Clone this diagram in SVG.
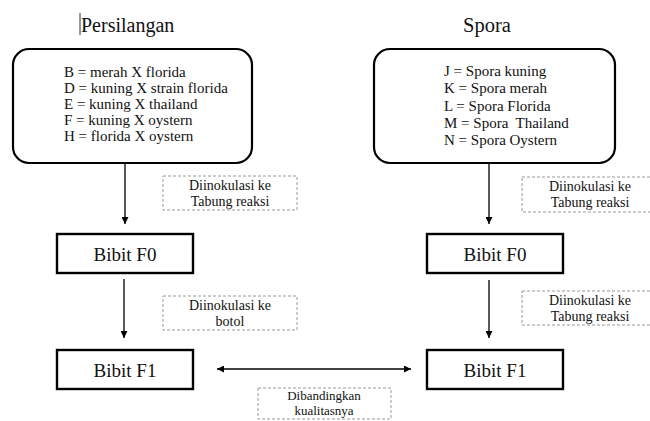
<svg xmlns="http://www.w3.org/2000/svg" width="650" height="421" viewBox="0 0 650 421" font-family="Liberation Serif, serif">
<defs>
<marker id="ah" viewBox="0 0 10 10" refX="10" refY="5" markerWidth="7" markerHeight="7" markerUnits="userSpaceOnUse" orient="auto-start-reverse">
<path d="M0,0 L10,5 L0,10 z" fill="#000"/>
</marker>
</defs>
<g id="title-persilangan">
<line x1="80" y1="13" x2="80" y2="35" stroke="#333" stroke-width="1"/>
<text font-family="Liberation Serif, serif" style="font-family:'Liberation Serif',serif;font-size:20px;fill:#111" x="81" y="32">Persilangan</text>
</g>
<g id="title-spora">
<text font-family="Liberation Serif, serif" style="font-family:'Liberation Serif',serif;font-size:20.5px;fill:#111" x="463" y="32">Spora</text>
</g>
<g id="node-persilangan">
<rect fill="#fff" stroke="#000" stroke-width="2.2" x="13" y="49" width="239" height="114" rx="16"/>
<text font-family="Liberation Serif, serif" style="font-family:'Liberation Serif',serif;font-size:15px;fill:#111" x="64" y="77">B = merah X florida</text>
<text font-family="Liberation Serif, serif" style="font-family:'Liberation Serif',serif;font-size:15px;fill:#111" x="64" y="93">D = kuning X strain florida</text>
<text font-family="Liberation Serif, serif" style="font-family:'Liberation Serif',serif;font-size:15px;fill:#111" x="64" y="109">E = kuning X thailand</text>
<text font-family="Liberation Serif, serif" style="font-family:'Liberation Serif',serif;font-size:15px;fill:#111" x="64" y="125">F = kuning X oystern</text>
<text font-family="Liberation Serif, serif" style="font-family:'Liberation Serif',serif;font-size:15px;fill:#111" x="64" y="141">H = florida X oystern</text>
</g>
<g id="node-spora">
<rect fill="#fff" stroke="#000" stroke-width="2.2" x="374" y="49" width="241" height="114" rx="16"/>
<text font-family="Liberation Serif, serif" style="font-family:'Liberation Serif',serif;font-size:15px;fill:#111" x="444" y="76">J = Spora kuning</text>
<text font-family="Liberation Serif, serif" style="font-family:'Liberation Serif',serif;font-size:15px;fill:#111" x="444" y="93">K = Spora merah</text>
<text font-family="Liberation Serif, serif" style="font-family:'Liberation Serif',serif;font-size:15px;fill:#111" x="444" y="111">L = Spora Florida</text>
<text font-family="Liberation Serif, serif" style="font-family:'Liberation Serif',serif;font-size:15px;fill:#111;white-space:pre" x="444" y="128">M = Spora  Thailand</text>
<text font-family="Liberation Serif, serif" style="font-family:'Liberation Serif',serif;font-size:15px;fill:#111" x="444" y="145">N = Spora Oystern</text>
</g>
<g id="node-f0-left">
<rect fill="#fff" stroke="#000" stroke-width="2.4" x="57" y="234" width="136" height="39"/>
<text font-family="Liberation Serif, serif" style="font-family:'Liberation Serif',serif;font-size:19px;fill:#111;text-anchor:middle" x="125" y="261">Bibit F0</text>
</g>
<g id="node-f1-left">
<rect fill="#fff" stroke="#000" stroke-width="2.4" x="57" y="350" width="136" height="39"/>
<text font-family="Liberation Serif, serif" style="font-family:'Liberation Serif',serif;font-size:19px;fill:#111;text-anchor:middle" x="125" y="377">Bibit F1</text>
</g>
<g id="node-f0-right">
<rect fill="#fff" stroke="#000" stroke-width="2.4" x="427" y="234" width="136" height="39"/>
<text font-family="Liberation Serif, serif" style="font-family:'Liberation Serif',serif;font-size:19px;fill:#111;text-anchor:middle" x="495" y="261">Bibit F0</text>
</g>
<g id="node-f1-right">
<rect fill="#fff" stroke="#000" stroke-width="2.4" x="427" y="350" width="136" height="39"/>
<text font-family="Liberation Serif, serif" style="font-family:'Liberation Serif',serif;font-size:19px;fill:#111;text-anchor:middle" x="495" y="377">Bibit F1</text>
</g>
<g id="connectors" stroke="#000" stroke-width="1.3" fill="none">
<line x1="125" y1="164" x2="125" y2="224" marker-end="url(#ah)"/>
<line x1="124" y1="279" x2="124" y2="338" marker-end="url(#ah)"/>
<line x1="489" y1="164" x2="489" y2="224" marker-end="url(#ah)"/>
<line x1="489" y1="280" x2="489" y2="338" marker-end="url(#ah)"/>
<line x1="217" y1="369" x2="411" y2="369" marker-start="url(#ah)" marker-end="url(#ah)"/>
</g>
<g id="label-1">
<rect fill="#fff" stroke="#999" stroke-width="1" stroke-dasharray="3 2" x="163" y="176" width="134" height="34"/>
<text font-family="Liberation Serif, serif" style="font-family:'Liberation Serif',serif;font-size:14px;fill:#111;text-anchor:middle" x="230" y="190">Diinokulasi ke</text>
<text font-family="Liberation Serif, serif" style="font-family:'Liberation Serif',serif;font-size:14px;fill:#111;text-anchor:middle" x="230" y="206">Tabung reaksi</text>
</g>
<g id="label-2">
<rect fill="#fff" stroke="#999" stroke-width="1" stroke-dasharray="3 2" x="163" y="296" width="134" height="34"/>
<text font-family="Liberation Serif, serif" style="font-family:'Liberation Serif',serif;font-size:14px;fill:#111;text-anchor:middle" x="230" y="310">Diinokulasi ke</text>
<text font-family="Liberation Serif, serif" style="font-family:'Liberation Serif',serif;font-size:14px;fill:#111;text-anchor:middle" x="230" y="326">botol</text>
</g>
<g id="label-3">
<rect fill="#fff" stroke="#999" stroke-width="1" stroke-dasharray="3 2" x="522" y="177" width="132" height="35"/>
<text font-family="Liberation Serif, serif" style="font-family:'Liberation Serif',serif;font-size:14px;fill:#111;text-anchor:middle" x="590" y="191">Diinokulasi ke</text>
<text font-family="Liberation Serif, serif" style="font-family:'Liberation Serif',serif;font-size:14px;fill:#111;text-anchor:middle" x="590" y="207">Tabung reaksi</text>
</g>
<g id="label-4">
<rect fill="#fff" stroke="#999" stroke-width="1" stroke-dasharray="3 2" x="522" y="291" width="132" height="34"/>
<text font-family="Liberation Serif, serif" style="font-family:'Liberation Serif',serif;font-size:14px;fill:#111;text-anchor:middle" x="590" y="305">Diinokulasi ke</text>
<text font-family="Liberation Serif, serif" style="font-family:'Liberation Serif',serif;font-size:14px;fill:#111;text-anchor:middle" x="590" y="321">Tabung reaksi</text>
</g>
<g id="label-5">
<rect fill="#fff" stroke="#999" stroke-width="1" stroke-dasharray="3 2" x="258" y="388" width="133" height="31"/>
<text font-family="Liberation Serif, serif" style="font-family:'Liberation Serif',serif;font-size:13px;fill:#111;text-anchor:middle" x="324" y="400">Dibandingkan</text>
<text font-family="Liberation Serif, serif" style="font-family:'Liberation Serif',serif;font-size:13px;fill:#111;text-anchor:middle" x="324" y="415">kualitasnya</text>
</g>
</svg>
